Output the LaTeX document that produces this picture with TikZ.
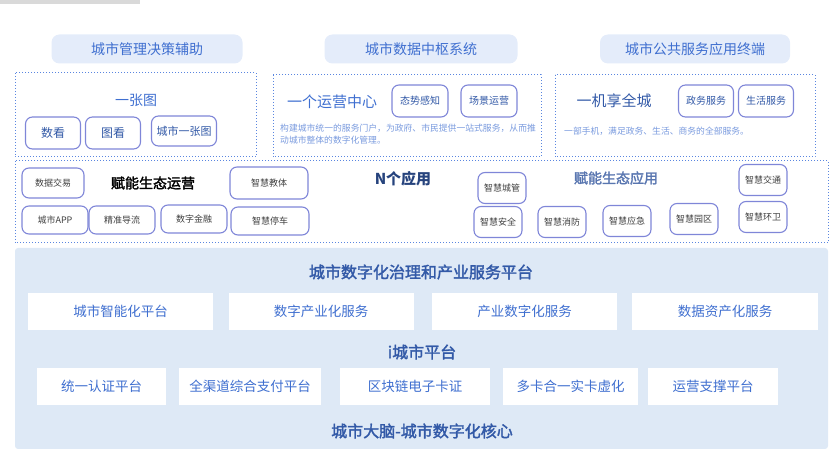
\documentclass[tikz,border=0pt]{standalone}
\usepackage{fontspec}
\setmainfont{Noto Sans CJK SC}
\XeTeXlinebreaklocale "zh"
\XeTeXlinebreakskip=0pt plus 1pt
\newfontfamily\cjkb[FakeBold=2]{Noto Sans CJK SC}
\usetikzlibrary{positioning}
\definecolor{tb}{HTML}{3F6FD0}
\definecolor{hb}{HTML}{E4ECFA}
\definecolor{bg}{HTML}{DEE9F6}
\definecolor{pill}{HTML}{7F86D8}
\definecolor{dot}{HTML}{5A86E0}
\tikzset{
 hdr/.style={fill=hb,rounded corners=8pt,minimum height=29pt,text=tb,font=\fontsize{14}{14}\selectfont},
 dotbox/.style={draw=dot,dotted,line width=1pt},
 pil/.style={draw=pill,line width=1.1pt,rounded corners=7pt,fill=white,font=\fontsize{10}{10}\selectfont,text=tb!80!black,inner sep=2pt},
 spil/.style={pil,font=\fontsize{9}{9}\selectfont,text=black!75},
 wbox/.style={fill=white,text=tb,font=\fontsize{13.5}{13.5}\selectfont,inner sep=0pt},
 ttl/.style={text=tb!80!black,font=\cjkb\fontsize{16}{16}\selectfont},
}
\begin{document}
\begin{tikzpicture}[x=1pt,y=-1pt]
\useasboundingbox (0,0) rectangle (838,449);
\fill[black!15] (0,0) rectangle (140,4);
% headers
\node[hdr,minimum width=191pt] (h1) at (147,49) {城市管理决策辅助};
\node[hdr,minimum width=193pt] (h2) at (421,49) {城市数据中枢系统};
\node[hdr,minimum width=190pt] (h3) at (695,49) {城市公共服务应用终端};
% row 1 boxes
\draw[dotbox] (15,73) rectangle (256,157);
\draw[dotbox] (273,75) rectangle (541,157);
\draw[dotbox] (555,75) rectangle (815,157);
\node[text=tb,font=\fontsize{14}{14}\selectfont] (a0) at (136,100) {一张图};
\node[pil,minimum width=55pt,minimum height=32pt,font=\fontsize{12}{12}\selectfont] (a1) at (53,133) {数看};
\node[pil,minimum width=55pt,minimum height=32pt,font=\fontsize{12}{12}\selectfont] (a2) at (113,133) {图看};
\node[pil,minimum width=65pt,minimum height=30pt,font=\fontsize{11}{11}\selectfont] (a3) at (184,131) {城市一张图};
\node[text=tb,font=\fontsize{15}{15}\selectfont] (b0) at (332,102) {一个运营中心};
\node[pil,minimum width=56pt,minimum height=32pt] (b1) at (420,101) {态势感知};
\node[pil,minimum width=56pt,minimum height=32pt] (b2) at (489,101) {场景运营};
\node[text=tb!70,font=\fontsize{8.8}{12}\selectfont,align=left,text width=256pt,anchor=north west,inner sep=0pt] (b3) at (280,124) {构建城市统一的服务门户，为政府、市民提供一站式服务，从而推动城市整体的数字化管理。};
\node[text=tb!80!black,font=\fontsize{15}{15}\selectfont] (c0) at (614,101) {一机享全城};
\node[pil,minimum width=55pt,minimum height=32pt] (c1) at (706,101) {政务服务};
\node[pil,minimum width=55pt,minimum height=32pt] (c2) at (766,101) {生活服务};
\node[text=tb!70,font=\fontsize{8.8}{10}\selectfont,anchor=west,inner sep=0pt] (c3) at (564,131) {一部手机，满足政务、生活、商务的全部服务。};
% row 2
\draw[dotbox] (15,161) rectangle (828,243);
\node[spil,minimum width=62pt,minimum height=30pt] (d1) at (53,183) {数据交易};
\node[text=black,font=\cjkb\fontsize{14}{14}\selectfont] (d0) at (153,183) {赋能生态运营};
\node[spil,minimum width=78pt,minimum height=32pt] (d2) at (269,183) {智慧教体};
\node[spil,minimum width=66pt,minimum height=28pt] (d3) at (55,220) {城市APP};
\node[spil,minimum width=66pt,minimum height=28pt] (d4) at (122,220) {精准导流};
\node[spil,minimum width=66pt,minimum height=28pt] (d5) at (194,219) {数字金融};
\node[spil,minimum width=78pt,minimum height=28pt] (d6) at (270,221) {智慧停车};
\node[text=tb!60!black,font=\fontsize{15}{15}\selectfont\bfseries] (n0) at (403,179) {N个应用};
\node[text=tb!60!gray,font=\cjkb\fontsize{14}{14}\selectfont] (n1) at (616,178) {赋能生态应用};
\node[spil,minimum width=48pt,minimum height=31pt] (e1) at (502,188) {智慧城管};
\node[spil,minimum width=48pt,minimum height=31pt] (e2) at (498,222) {智慧安全};
\node[spil,minimum width=48pt,minimum height=31pt] (e3) at (562,222) {智慧消防};
\node[spil,minimum width=48pt,minimum height=31pt] (e4) at (627,221) {智慧应急};
\node[spil,minimum width=48pt,minimum height=31pt] (e5) at (694,219) {智慧园区};
\node[spil,minimum width=48pt,minimum height=31pt] (e6) at (763,180) {智慧交通};
\node[spil,minimum width=48pt,minimum height=31pt] (e7) at (763,217) {智慧环卫};
% bottom platform
\fill[bg,rounded corners=3pt] (15,248) rectangle (828,449);
\node[ttl] (p0) at (421,272) {城市数字化治理和产业服务平台};
\node[wbox,minimum width=185pt,minimum height=37pt] (p1) at (120.5,311.5) {城市智能化平台};
\node[wbox,minimum width=185pt,minimum height=37pt] (p2) at (321,311.5) {数字产业化服务};
\node[wbox,minimum width=185pt,minimum height=37pt] (p3) at (524.5,311.5) {产业数字化服务};
\node[wbox,minimum width=186pt,minimum height=37pt] (p4) at (725,311.5) {数据资产化服务};
\node[ttl] (i0) at (422,352) {i城市平台};
\node[wbox,minimum width=129pt,minimum height=37pt] (q1) at (101.5,386.5) {统一认证平台};
\node[wbox,minimum width=142pt,minimum height=37pt] (q2) at (250,386.5) {全渠道综合支付平台};
\node[wbox,minimum width=150pt,minimum height=37pt] (q3) at (415,386.5) {区块链电子卡证};
\node[wbox,minimum width=135pt,minimum height=37pt] (q4) at (570.5,386.5) {多卡合一实卡虚化};
\node[wbox,minimum width=130pt,minimum height=37pt] (q5) at (713,386.5) {运营支撑平台};
\node[ttl] (z0) at (422,431) {城市大脑-城市数字化核心};
\end{tikzpicture}
\end{document}
